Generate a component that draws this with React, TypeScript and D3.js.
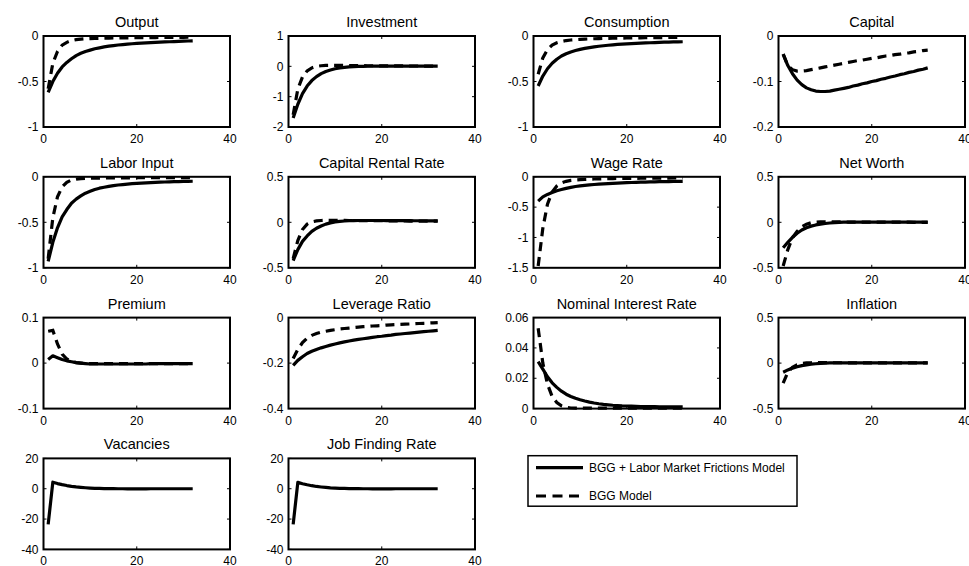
import React from "react";
import * as d3 from "d3";

const periods = d3.range(1, 33);

const outputLMF = [-0.62,-0.5,-0.41,-0.34,-0.29,-0.25,-0.215,-0.19,-0.17,-0.155,-0.14,-0.13,-0.12,-0.112,-0.105,-0.099,-0.094,-0.089,-0.085,-0.081,-0.078,-0.075,-0.072,-0.07,-0.067,-0.065,-0.063,-0.061,-0.059,-0.057,-0.055,-0.053];
const outputBGG = [-0.58,-0.3,-0.17,-0.1,-0.07,-0.05,-0.04,-0.034,-0.03,-0.028,-0.026,-0.025,-0.024,-0.023,-0.022,-0.021,-0.02,-0.02,-0.019,-0.019,-0.018,-0.018,-0.017,-0.017,-0.016,-0.016,-0.016,-0.015,-0.015,-0.015,-0.014,-0.014];

const investLMF = [-1.7,-1.25,-0.9,-0.65,-0.47,-0.34,-0.24,-0.17,-0.12,-0.08,-0.055,-0.035,-0.02,-0.01,-0.004,0,0.003,0.005,0.006,0.007,0.007,0.007,0.007,0.007,0.006,0.006,0.006,0.005,0.005,0.005,0.004,0.004];
const investBGG = [-1.6,-0.75,-0.35,-0.15,-0.05,0,0.02,0.03,0.033,0.033,0.032,0.03,0.028,0.026,0.024,0.022,0.02,0.019,0.018,0.017,0.016,0.015,0.014,0.013,0.012,0.011,0.011,0.01,0.01,0.009,0.009,0.008];

const consLMF = [-0.55,-0.44,-0.36,-0.3,-0.255,-0.22,-0.195,-0.175,-0.16,-0.147,-0.136,-0.127,-0.12,-0.113,-0.107,-0.102,-0.097,-0.093,-0.089,-0.086,-0.083,-0.08,-0.078,-0.076,-0.074,-0.072,-0.07,-0.068,-0.067,-0.065,-0.064,-0.063];
const consBGG = [-0.42,-0.24,-0.15,-0.1,-0.075,-0.06,-0.05,-0.044,-0.04,-0.037,-0.034,-0.032,-0.03,-0.029,-0.027,-0.026,-0.025,-0.024,-0.023,-0.022,-0.021,-0.02,-0.02,-0.019,-0.018,-0.018,-0.017,-0.017,-0.016,-0.016,-0.015,-0.015];

const capLMF = [-0.04,-0.065,-0.083,-0.097,-0.107,-0.114,-0.118,-0.121,-0.122,-0.122,-0.121,-0.119,-0.117,-0.115,-0.113,-0.11,-0.108,-0.105,-0.103,-0.1,-0.098,-0.095,-0.093,-0.09,-0.088,-0.085,-0.083,-0.08,-0.078,-0.075,-0.073,-0.07];
const capBGG = [-0.04,-0.065,-0.074,-0.077,-0.077,-0.076,-0.074,-0.072,-0.07,-0.068,-0.066,-0.064,-0.062,-0.06,-0.058,-0.056,-0.054,-0.053,-0.051,-0.049,-0.048,-0.046,-0.044,-0.043,-0.041,-0.04,-0.038,-0.037,-0.035,-0.034,-0.032,-0.031];

const laborLMF = [-0.93,-0.72,-0.56,-0.44,-0.36,-0.29,-0.245,-0.21,-0.18,-0.16,-0.14,-0.125,-0.115,-0.105,-0.097,-0.09,-0.085,-0.08,-0.076,-0.072,-0.069,-0.066,-0.063,-0.061,-0.059,-0.057,-0.055,-0.054,-0.052,-0.051,-0.05,-0.049];
const laborBGG = [-0.9,-0.45,-0.22,-0.11,-0.06,-0.035,-0.025,-0.02,-0.018,-0.016,-0.015,-0.014,-0.013,-0.013,-0.012,-0.012,-0.011,-0.011,-0.011,-0.01,-0.01,-0.01,-0.01,-0.009,-0.009,-0.009,-0.009,-0.009,-0.008,-0.008,-0.008,-0.008];

const rentLMF = [-0.42,-0.3,-0.21,-0.15,-0.1,-0.065,-0.04,-0.02,-0.006,0.004,0.01,0.014,0.017,0.019,0.02,0.02,0.02,0.02,0.02,0.02,0.019,0.019,0.019,0.018,0.018,0.018,0.017,0.017,0.017,0.016,0.016,0.016];
const rentBGG = [-0.4,-0.2,-0.08,-0.02,0.005,0.015,0.02,0.022,0.022,0.022,0.021,0.021,0.02,0.02,0.019,0.019,0.018,0.018,0.017,0.017,0.016,0.016,0.015,0.015,0.015,0.014,0.014,0.014,0.013,0.013,0.013,0.012];

const wageLMF = [-0.4,-0.33,-0.29,-0.26,-0.23,-0.21,-0.19,-0.175,-0.16,-0.15,-0.14,-0.133,-0.127,-0.121,-0.116,-0.111,-0.107,-0.103,-0.1,-0.097,-0.094,-0.091,-0.089,-0.087,-0.085,-0.083,-0.081,-0.079,-0.078,-0.076,-0.075,-0.074];
const wageBGG = [-1.47,-0.85,-0.45,-0.25,-0.15,-0.1,-0.075,-0.06,-0.052,-0.046,-0.042,-0.039,-0.036,-0.034,-0.032,-0.031,-0.029,-0.028,-0.027,-0.026,-0.025,-0.025,-0.024,-0.023,-0.023,-0.022,-0.022,-0.021,-0.021,-0.02,-0.02,-0.02];

const netLMF = [-0.28,-0.22,-0.165,-0.12,-0.085,-0.06,-0.042,-0.029,-0.02,-0.013,-0.008,-0.004,-0.001,0.001,0.002,0.003,0.003,0.003,0.003,0.003,0.003,0.003,0.003,0.003,0.002,0.002,0.002,0.002,0.002,0.002,0.002,0.002];
const netBGG = [-0.48,-0.3,-0.17,-0.1,-0.05,-0.02,-0.005,0.003,0.006,0.006,0.005,0.005,0.004,0.004,0.003,0.003,0.003,0.002,0.002,0.002,0.002,0.001,0.001,0.001,0.001,0.001,0.001,0.001,0,0,0,0];

const premLMF = [0.008,0.016,0.012,0.008,0.005,0.003,0.001,0,-0.001,-0.002,-0.002,-0.002,-0.002,-0.002,-0.002,-0.002,-0.002,-0.002,-0.002,-0.002,-0.002,-0.002,-0.001,-0.001,-0.001,-0.001,-0.001,-0.001,-0.001,-0.001,-0.001,-0.001];
const premBGG = [0.07,0.072,0.042,0.02,0.009,0.004,0.001,0,-0.001,-0.001,-0.001,-0.001,-0.001,-0.001,-0.001,-0.001,-0.001,-0.001,-0.001,-0.001,-0.001,-0.001,-0.001,-0.001,-0.001,-0.001,-0.001,-0.001,-0.001,-0.001,-0.001,-0.001];

const levLMF = [-0.21,-0.188,-0.172,-0.158,-0.148,-0.14,-0.133,-0.127,-0.121,-0.116,-0.111,-0.107,-0.103,-0.099,-0.096,-0.093,-0.09,-0.087,-0.084,-0.082,-0.079,-0.077,-0.074,-0.072,-0.07,-0.068,-0.066,-0.064,-0.062,-0.06,-0.058,-0.056];
const levBGG = [-0.18,-0.14,-0.11,-0.09,-0.078,-0.07,-0.064,-0.06,-0.056,-0.053,-0.05,-0.048,-0.046,-0.044,-0.042,-0.04,-0.039,-0.037,-0.036,-0.035,-0.033,-0.032,-0.031,-0.03,-0.029,-0.028,-0.027,-0.026,-0.025,-0.024,-0.023,-0.022];

const nomLMF = [0.031,0.026,0.021,0.017,0.014,0.0115,0.0095,0.008,0.0068,0.0058,0.005,0.0043,0.0037,0.0032,0.0028,0.0025,0.0022,0.002,0.0018,0.0017,0.0016,0.0015,0.0014,0.0014,0.0013,0.0013,0.0012,0.0012,0.0012,0.0011,0.0011,0.0011];
const nomBGG = [0.053,0.03,0.016,0.008,0.004,0.0018,0.0008,0.0004,0.0003,0.0003,0.0003,0.0003,0.0003,0.0003,0.0003,0.0003,0.0003,0.0003,0.0003,0.0003,0.0003,0.0003,0.0003,0.0003,0.0003,0.0003,0.0003,0.0003,0.0003,0.0003,0.0003,0.0003];

const inflLMF = [-0.1,-0.075,-0.055,-0.04,-0.028,-0.019,-0.012,-0.007,-0.003,0,0.002,0.003,0.003,0.003,0.003,0.003,0.003,0.003,0.003,0.003,0.003,0.003,0.003,0.003,0.003,0.003,0.003,0.003,0.003,0.003,0.003,0.003];
const inflBGG = [-0.22,-0.1,-0.045,-0.018,-0.005,0.002,0.004,0.005,0.005,0.005,0.004,0.004,0.004,0.004,0.003,0.003,0.003,0.003,0.003,0.003,0.003,0.003,0.003,0.003,0.003,0.003,0.003,0.003,0.003,0.003,0.003,0.003];

const vacLMF = [-23.5,4.3,3.4,2.7,2.1,1.6,1.2,0.9,0.65,0.45,0.3,0.2,0.12,0.06,0.02,0,-0.02,-0.03,-0.03,-0.03,-0.03,-0.03,-0.02,-0.02,-0.02,-0.02,-0.02,-0.01,-0.01,-0.01,-0.01,-0.01];
const jobLMF = [-23.5,4.2,3.3,2.6,2.0,1.5,1.15,0.85,0.6,0.42,0.28,0.18,0.1,0.05,0.01,-0.01,-0.02,-0.03,-0.03,-0.03,-0.03,-0.03,-0.02,-0.02,-0.02,-0.02,-0.02,-0.01,-0.01,-0.01,-0.01,-0.01];

const titles = ["Output","Investment","Consumption","Capital","Labor Input","Capital Rental Rate","Wage Rate","Net Worth","Premium","Leverage Ratio","Nominal Interest Rate","Inflation","Vacancies","Job Finding Rate"];
const yDomains: [number, number][] = [[-1,0],[-2,1],[-1,0],[-0.2,0],[-1,0],[-0.5,0.5],[-1.5,0],[-0.5,0.5],[-0.1,0.1],[-0.4,0],[0,0.06],[-0.5,0.5],[-40,20],[-40,20]];
const yTicks = [[-1,-0.5,0],[-2,-1,0,1],[-1,-0.5,0],[-0.2,-0.1,0],[-1,-0.5,0],[-0.5,0,0.5],[-1.5,-1,-0.5,0],[-0.5,0,0.5],[-0.1,0,0.1],[-0.4,-0.2,0],[0,0.02,0.04,0.06],[-0.5,0,0.5],[-40,-20,0,20],[-40,-20,0,20]];
const lmfSeries = [outputLMF,investLMF,consLMF,capLMF,laborLMF,rentLMF,wageLMF,netLMF,premLMF,levLMF,nomLMF,inflLMF,vacLMF,jobLMF];
const bggSeries: (number[] | null)[] = [outputBGG,investBGG,consBGG,capBGG,laborBGG,rentBGG,wageBGG,netBGG,premBGG,levBGG,nomBGG,inflBGG,null,null];
const xTicks = [0, 20, 40];
const legendLabels = ["BGG + Labor Market Frictions Model", "BGG Model"];

const FONT = "'Liberation Sans', Arial, Helvetica, sans-serif";
const W = 969, H = 566;
const PW = 186.5, PH = 91;
const fmt = (v: number) => String(+v.toFixed(4));

function Panel({ i }: { i: number }) {
  const col = i % 4, row = Math.floor(i / 4);
  const left = 43.5 + col * 245;
  const top = 36 + row * 140.8;
  const x = d3.scaleLinear().domain([0, 40]).range([left, left + PW]);
  const y = d3.scaleLinear().domain(yDomains[i]).range([top + PH, top]);
  const line = d3.line<number>().x((_, k) => x(periods[k])).y((d) => y(d));
  const tl = 3;
  const bgg = bggSeries[i];
  return (
    <g>
      <text x={left + PW / 2} y={top - 9} textAnchor="middle" fontSize={14.5} fontFamily={FONT} fill="#000">{titles[i]}</text>
      <path d={line(lmfSeries[i]) || ""} fill="none" stroke="#000" strokeWidth={3.2} strokeLinejoin="round" />
      {bgg && <path d={line(bgg) || ""} fill="none" stroke="#000" strokeWidth={3.2} strokeDasharray="9,6" />}
      <rect x={left} y={top} width={PW} height={PH} fill="none" stroke="#000" strokeWidth={2} />
      {xTicks.map((t) => (
        <g key={"x" + t}>
          <line x1={x(t)} x2={x(t)} y1={top + PH} y2={top + PH - tl} stroke="#000" strokeWidth={1} />
          <line x1={x(t)} x2={x(t)} y1={top} y2={top + tl} stroke="#000" strokeWidth={1} />
          <text x={x(t)} y={top + PH + 16} textAnchor="middle" fontSize={12} fontFamily={FONT} fill="#000">{fmt(t)}</text>
        </g>
      ))}
      {yTicks[i].map((t) => (
        <g key={"y" + t}>
          <line x1={left} x2={left + tl} y1={y(t)} y2={y(t)} stroke="#000" strokeWidth={1} />
          <line x1={left + PW} x2={left + PW - tl} y1={y(t)} y2={y(t)} stroke="#000" strokeWidth={1} />
          <text x={left - 5} y={y(t)} dy="0.35em" textAnchor="end" fontSize={12} fontFamily={FONT} fill="#000">{fmt(t)}</text>
        </g>
      ))}
    </g>
  );
}

export default function App() {
  const lx = 528, ly = 455.7, lw = 269, lh = 50.5;
  return (
    <svg width={W} height={H} style={{ position: "absolute", left: 0, top: 0, background: "#fff" }}>
      <rect width={W} height={H} fill="#fff" />
      {titles.map((_, i) => <Panel key={i} i={i} />)}
      <g>
        <rect x={lx} y={ly} width={lw} height={lh} fill="#fff" stroke="#000" strokeWidth={1.5} />
        {legendLabels.map((lab, k) => {
          const yy = ly + 12 + k * 28.3;
          return (
            <g key={lab}>
              <line x1={536} x2={583} y1={yy} y2={yy} stroke="#000" strokeWidth={3.2} strokeDasharray={k === 1 ? "10,6.5" : undefined} />
              <text x={589} y={yy} dy="0.35em" fontSize={12} fontFamily={FONT} fill="#000">{lab}</text>
            </g>
          );
        })}
      </g>
    </svg>
  );
}
